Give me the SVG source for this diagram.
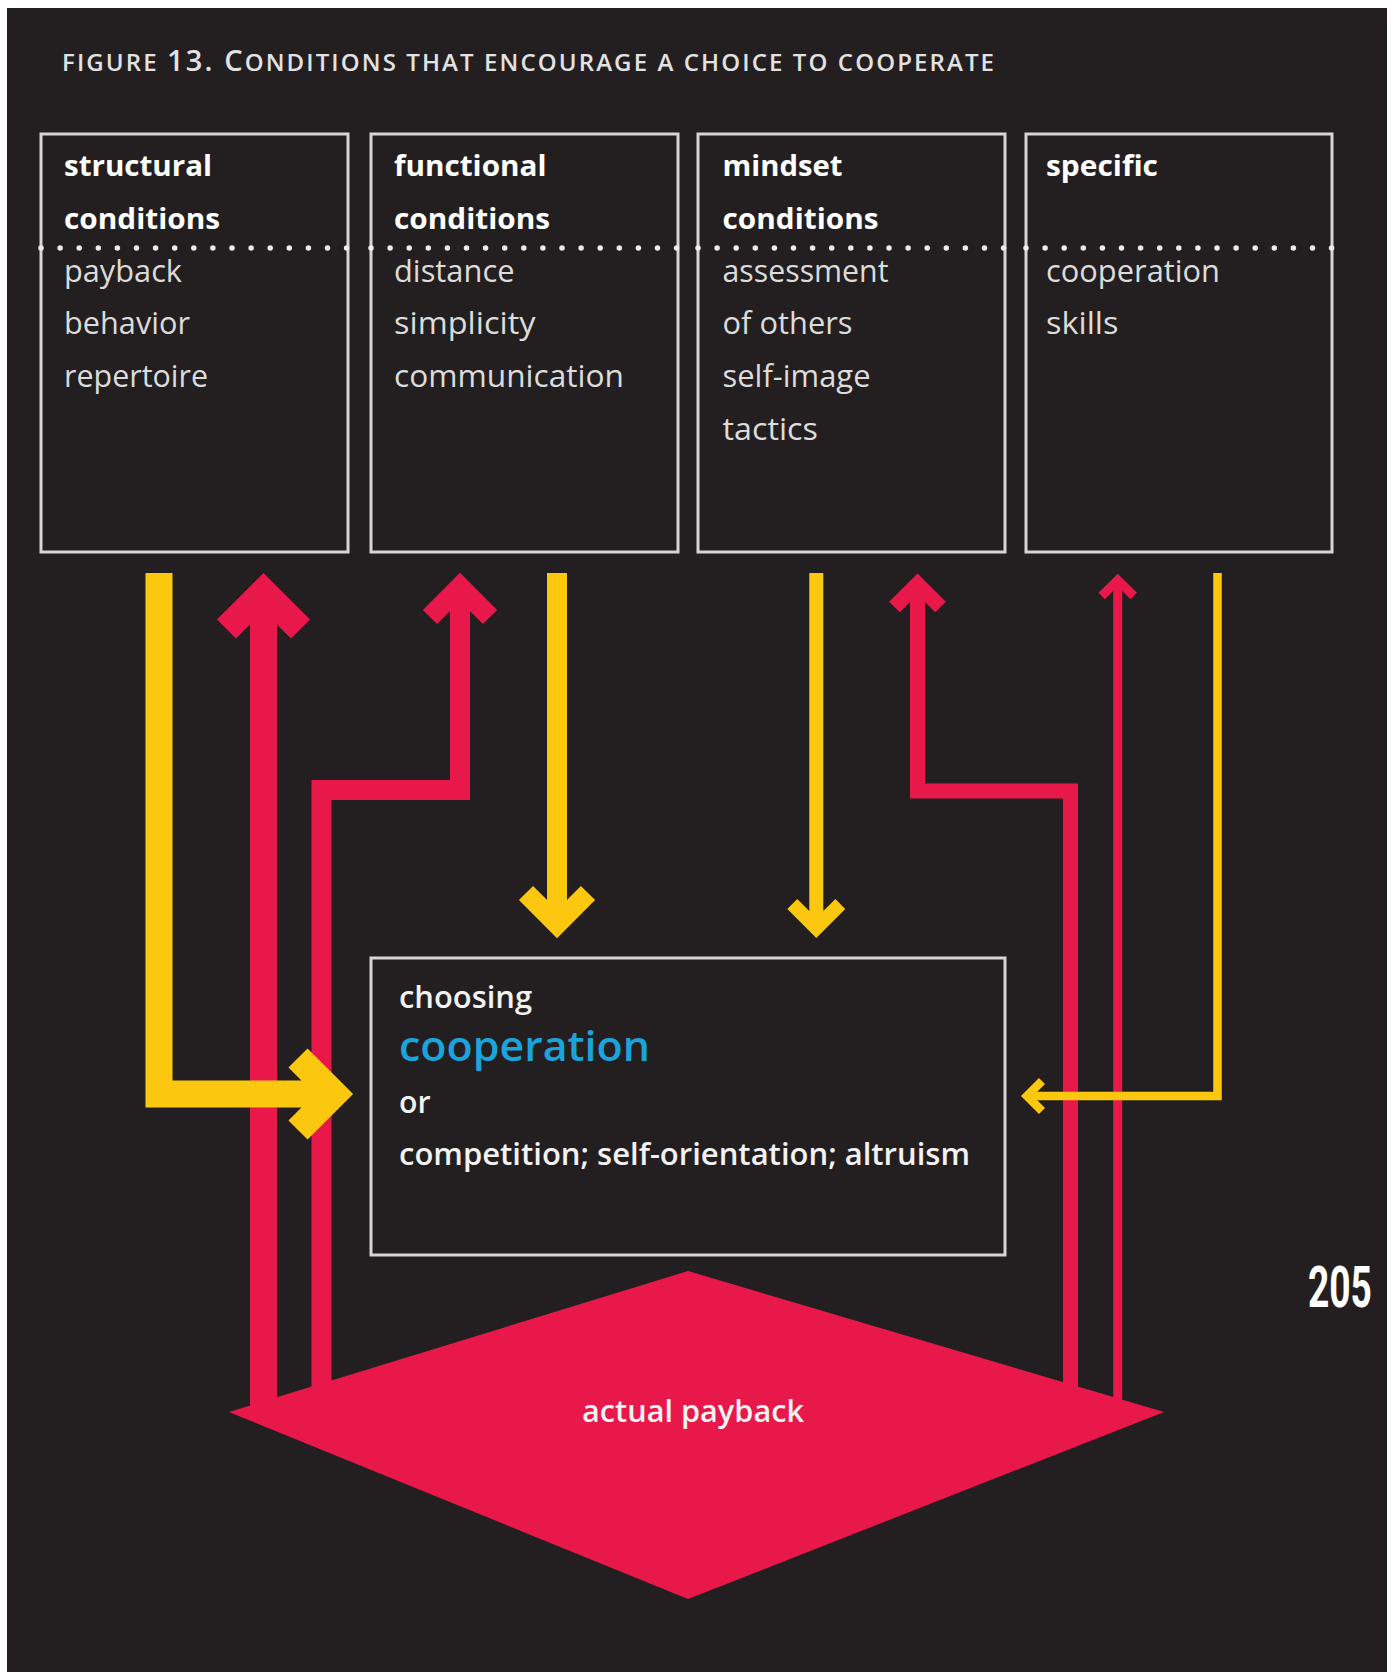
<svg xmlns="http://www.w3.org/2000/svg" width="1394" height="1672" viewBox="0 0 1394 1672">
  <style>
    .bg { fill: #231f20; }
    .box { fill: none; stroke: #d6d6d6; stroke-width: 3; }
    .dots { stroke: #ececec; stroke-width: 5.5; stroke-linecap: round; stroke-dasharray: 0 19.1; fill: none; }
    .hdr { font-family: "Open Sans", "Noto Sans", sans-serif; font-weight: 700; font-size: 29px; fill: #ffffff; }
    .item { font-family: "Open Sans", "Noto Sans", sans-serif; font-weight: 400; font-size: 31px; fill: #dcdcdc; }
    .ctr { font-family: "Open Sans", "Noto Sans", sans-serif; font-weight: 600; font-size: 30px; fill: #f2f2f2; }
    .coop { font-family: "Open Sans", "Noto Sans", sans-serif; font-weight: 600; font-size: 42px; fill: #1ba3dd; }
    .title { font-family: "Open Sans", "Noto Sans", sans-serif; font-weight: 600; fill: #e2e2e2; }
    .red { fill: none; stroke: #e8194a; stroke-linejoin: miter; stroke-linecap: butt; }
    .yel { fill: none; stroke: #fcc70f; stroke-linejoin: miter; stroke-linecap: butt; }
  </style>
  <rect x="0" y="0" width="1394" height="1672" fill="#ffffff"/>
  <rect class="bg" x="7" y="8" width="1380" height="1664"/>

  <text class="title" x="62" y="71" textLength="932" lengthAdjust="spacing"><tspan font-size="24">FIGURE </tspan><tspan font-size="29">13. C</tspan><tspan font-size="24">ONDITIONS THAT ENCOURAGE A CHOICE TO COOPERATE</tspan></text>

  <g id="node-diamond">
    <polygon points="688,1271 1164,1412 688,1599 229,1412" fill="#e8194a"/>
    <text x="693" y="1422" text-anchor="middle" class="ctr" font-size="30" textLength="222" lengthAdjust="spacingAndGlyphs" fill="#ffffff">actual payback</text>
  </g>

  <g id="connectors">
    <path class="red" stroke-width="27" d="M263.5,1415 V592 M226.5,629 L263.5,592 L300.5,629"/>
    <path class="red" stroke-width="20" d="M321.5,1410 V790 H460 V587 M430,617 L460,587 L490,617"/>
    <path class="red" stroke-width="15" d="M1070.5,1405 V791 H917.5 V584 M894.5,607 L917.5,584 L940.5,607"/>
    <path class="red" stroke-width="9" d="M1117.7,1405 V580 M1101.7,596 L1117.7,580 L1133.7,596"/>
    <path class="yel" stroke-width="27" d="M159,573 V1094 H334 M298,1058 L334,1094 L298,1130"/>
    <path class="yel" stroke-width="20" d="M557,573 V924 M526,893 L557,924 L588,893"/>
    <path class="yel" stroke-width="14" d="M816.3,573 V928 M792.3,904 L816.3,928 L840.3,904"/>
    <path class="yel" stroke-width="8.5" d="M1217.5,573 V1096 H1027 M1042,1081 L1027,1096 L1042,1111"/>
  </g>

  <g id="node-structural">
    <rect class="box" x="41" y="134" width="307" height="418"/>
    <line class="dots" x1="41" y1="248" x2="348.5" y2="248"/>
    <text class="hdr" x="64" y="176" textLength="148" lengthAdjust="spacingAndGlyphs">structural</text>
    <text class="hdr" x="64" y="228.5" textLength="156" lengthAdjust="spacingAndGlyphs">conditions</text>
    <text class="item" x="64" y="281.5" textLength="118" lengthAdjust="spacingAndGlyphs">payback</text>
    <text class="item" x="64" y="334" textLength="126" lengthAdjust="spacingAndGlyphs">behavior</text>
    <text class="item" x="64" y="387" textLength="144" lengthAdjust="spacingAndGlyphs">repertoire</text>
  </g>

  <g id="node-functional">
    <rect class="box" x="371" y="134" width="307" height="418"/>
    <line class="dots" x1="371" y1="248" x2="678.5" y2="248"/>
    <text class="hdr" x="394" y="176" textLength="152.5" lengthAdjust="spacingAndGlyphs">functional</text>
    <text class="hdr" x="394" y="228.5" textLength="156" lengthAdjust="spacingAndGlyphs">conditions</text>
    <text class="item" x="394" y="281.5" textLength="120.5" lengthAdjust="spacingAndGlyphs">distance</text>
    <text class="item" x="394" y="334" textLength="141.5" lengthAdjust="spacingAndGlyphs">simplicity</text>
    <text class="item" x="394" y="387" textLength="230" lengthAdjust="spacingAndGlyphs">communication</text>
  </g>

  <g id="node-mindset">
    <rect class="box" x="698" y="134" width="307" height="418"/>
    <line class="dots" x1="698" y1="248" x2="1005.5" y2="248"/>
    <text class="hdr" x="722.5" y="176" textLength="120" lengthAdjust="spacingAndGlyphs">mindset</text>
    <text class="hdr" x="722.5" y="228.5" textLength="156" lengthAdjust="spacingAndGlyphs">conditions</text>
    <text class="item" x="722.5" y="281.5" textLength="166" lengthAdjust="spacingAndGlyphs">assessment</text>
    <text class="item" x="722.5" y="334" textLength="130" lengthAdjust="spacingAndGlyphs">of others</text>
    <text class="item" x="722.5" y="387" textLength="148" lengthAdjust="spacingAndGlyphs">self-image</text>
    <text class="item" x="722.5" y="440" textLength="95.5" lengthAdjust="spacingAndGlyphs">tactics</text>
  </g>

  <g id="node-specific">
    <rect class="box" x="1026" y="134" width="306" height="418"/>
    <line class="dots" x1="1026" y1="248" x2="1332.5" y2="248"/>
    <text class="hdr" x="1046" y="176" textLength="112" lengthAdjust="spacingAndGlyphs">specific</text>
    <text class="item" x="1046" y="281.5" textLength="174" lengthAdjust="spacingAndGlyphs">cooperation</text>
    <text class="item" x="1046" y="334" textLength="72.5" lengthAdjust="spacingAndGlyphs">skills</text>
  </g>

  <g id="node-choosing">
    <rect class="box" x="371" y="958" width="634" height="297"/>
    <text class="ctr" x="399" y="1008" textLength="133" lengthAdjust="spacingAndGlyphs">choosing</text>
    <text class="coop" x="399" y="1060.5" textLength="251" lengthAdjust="spacingAndGlyphs">cooperation</text>
    <text class="ctr" x="399" y="1113" textLength="31.5" lengthAdjust="spacingAndGlyphs">or</text>
    <text class="ctr" x="399" y="1165" textLength="571" lengthAdjust="spacingAndGlyphs">competition; self-orientation; altruism</text>
  </g>

  <text transform="translate(1308,1306.5) scale(0.64,1)" x="0" y="0" font-family="Roboto, 'DejaVu Sans', sans-serif" font-weight="700" font-size="58" fill="#ffffff">205</text>
</svg>
